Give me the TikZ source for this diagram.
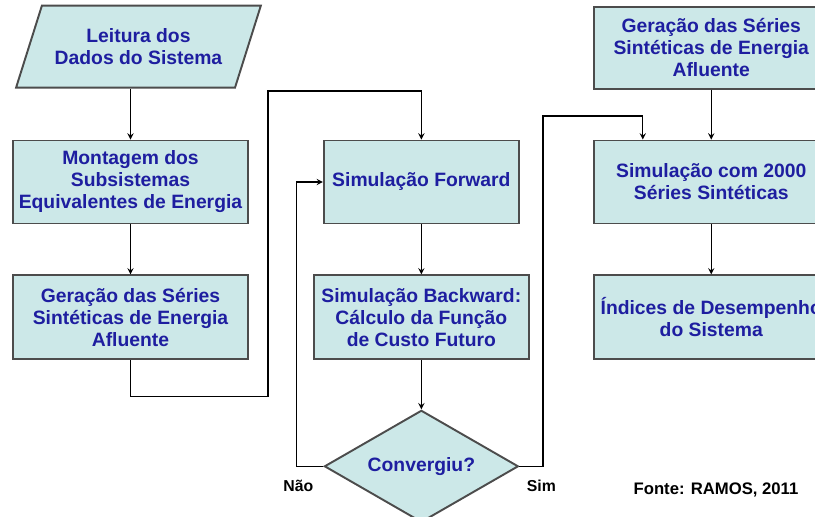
\documentclass[tikz,border=0pt]{standalone}
\usepackage{fontspec}
\setmainfont{Liberation Sans}
\usepackage{xcolor}
\usetikzlibrary{shapes,arrows,positioning}
\definecolor{boxfill}{RGB}{204,232,232}
\definecolor{boxtext}{RGB}{30,30,160}

\begin{document}
\begin{tikzpicture}[
    x=0.02cm, y=-0.02cm,
    node distance=1cm,
    box/.style={rectangle, draw=black!70, line width=1.1pt, fill=boxfill, minimum width=4.7cm, minimum height=1.66cm, inner xsep=2pt, font=\fontsize{11}{12.5}\selectfont\bfseries, text=boxtext, align=center},
    io/.style={box, trapezium, trapezium left angle=64, trapezium right angle=116, trapezium stretches=true, minimum width=4.9cm, minimum height=1.64cm},
    decision/.style={box, diamond, aspect=1.75, minimum width=3.88cm, minimum height=2.24cm, inner sep=0pt},
    lbl/.style={font=\fontsize{9}{10}\selectfont\bfseries},
    arrow/.style={->, >=stealth, semithick}
]
    \useasboundingbox (0,0) rectangle (815,517);
    \clip (0,0) rectangle (815,517);

    % Left column
    \node[box] (montagem) at (130.5,182) {Montagem dos\\Subsistemas\\Equivalentes de Energia};
    \node[io, above=1.02cm of montagem, xshift=0.16cm] (leitura) {Leitura dos\\Dados do Sistema};
    \node[box, below=1cm of montagem, minimum height=1.68cm] (geracaoA) {Geração das Séries\\Sintéticas de Energia\\Afluente};

    % Middle column
    \node[box, right=1.48cm of montagem, minimum width=3.9cm] (forward) {Simulação Forward};
    \node[box, below=1cm of forward, minimum width=4.3cm, minimum height=1.68cm] (backward) {Simulação Backward:\\Cálculo da Função\\de Custo Futuro};
    \node[decision, below=0.98cm of backward] (convergiu) {Convergiu?};

    % Right column
    \node[box, right=1.46cm of forward] (sim2000) {Simulação com 2000\\Séries Sintéticas};
    \node[box, above=1cm of sim2000, minimum height=1.64cm] (geracaoB) {Geração das Séries\\Sintéticas de Energia\\Afluente};
    \node[box, below=1cm of sim2000, minimum height=1.68cm] (indices) {Índices de Desempenho\\do Sistema};

    % Labels
    \node[lbl] (nao) at ([xshift=-0.5cm, yshift=-0.4cm]convergiu.west) {Não};
    \node[lbl] (sim) at ([xshift=0.44cm, yshift=-0.4cm]convergiu.east) {Sim};
    \node[lbl, font=\fontsize{9.5}{11}\selectfont\bfseries] (fonte) at (716,490) {Fonte: RAMOS, 2011};

    % Arrows
    \draw[arrow] (leitura.south -| montagem) -- (montagem);
    \draw[arrow] (montagem) -- (geracaoA);
    \draw[arrow] (geracaoA.south) -- ++(0,36) -| (268,91) -| (forward.north);
    \draw[arrow] (forward) -- (backward);
    \draw[arrow] (backward) -- (convergiu);
    \draw[arrow] (convergiu.west) -| ([xshift=-0.52cm]forward.west) -- (forward.west);
    \draw[arrow] (convergiu.east) -| (543,116) -| ([xshift=1cm]sim2000.north west);
    \draw[arrow] (geracaoB) -- (sim2000);
    \draw[arrow] (sim2000) -- (indices);
\end{tikzpicture}
\end{document}
